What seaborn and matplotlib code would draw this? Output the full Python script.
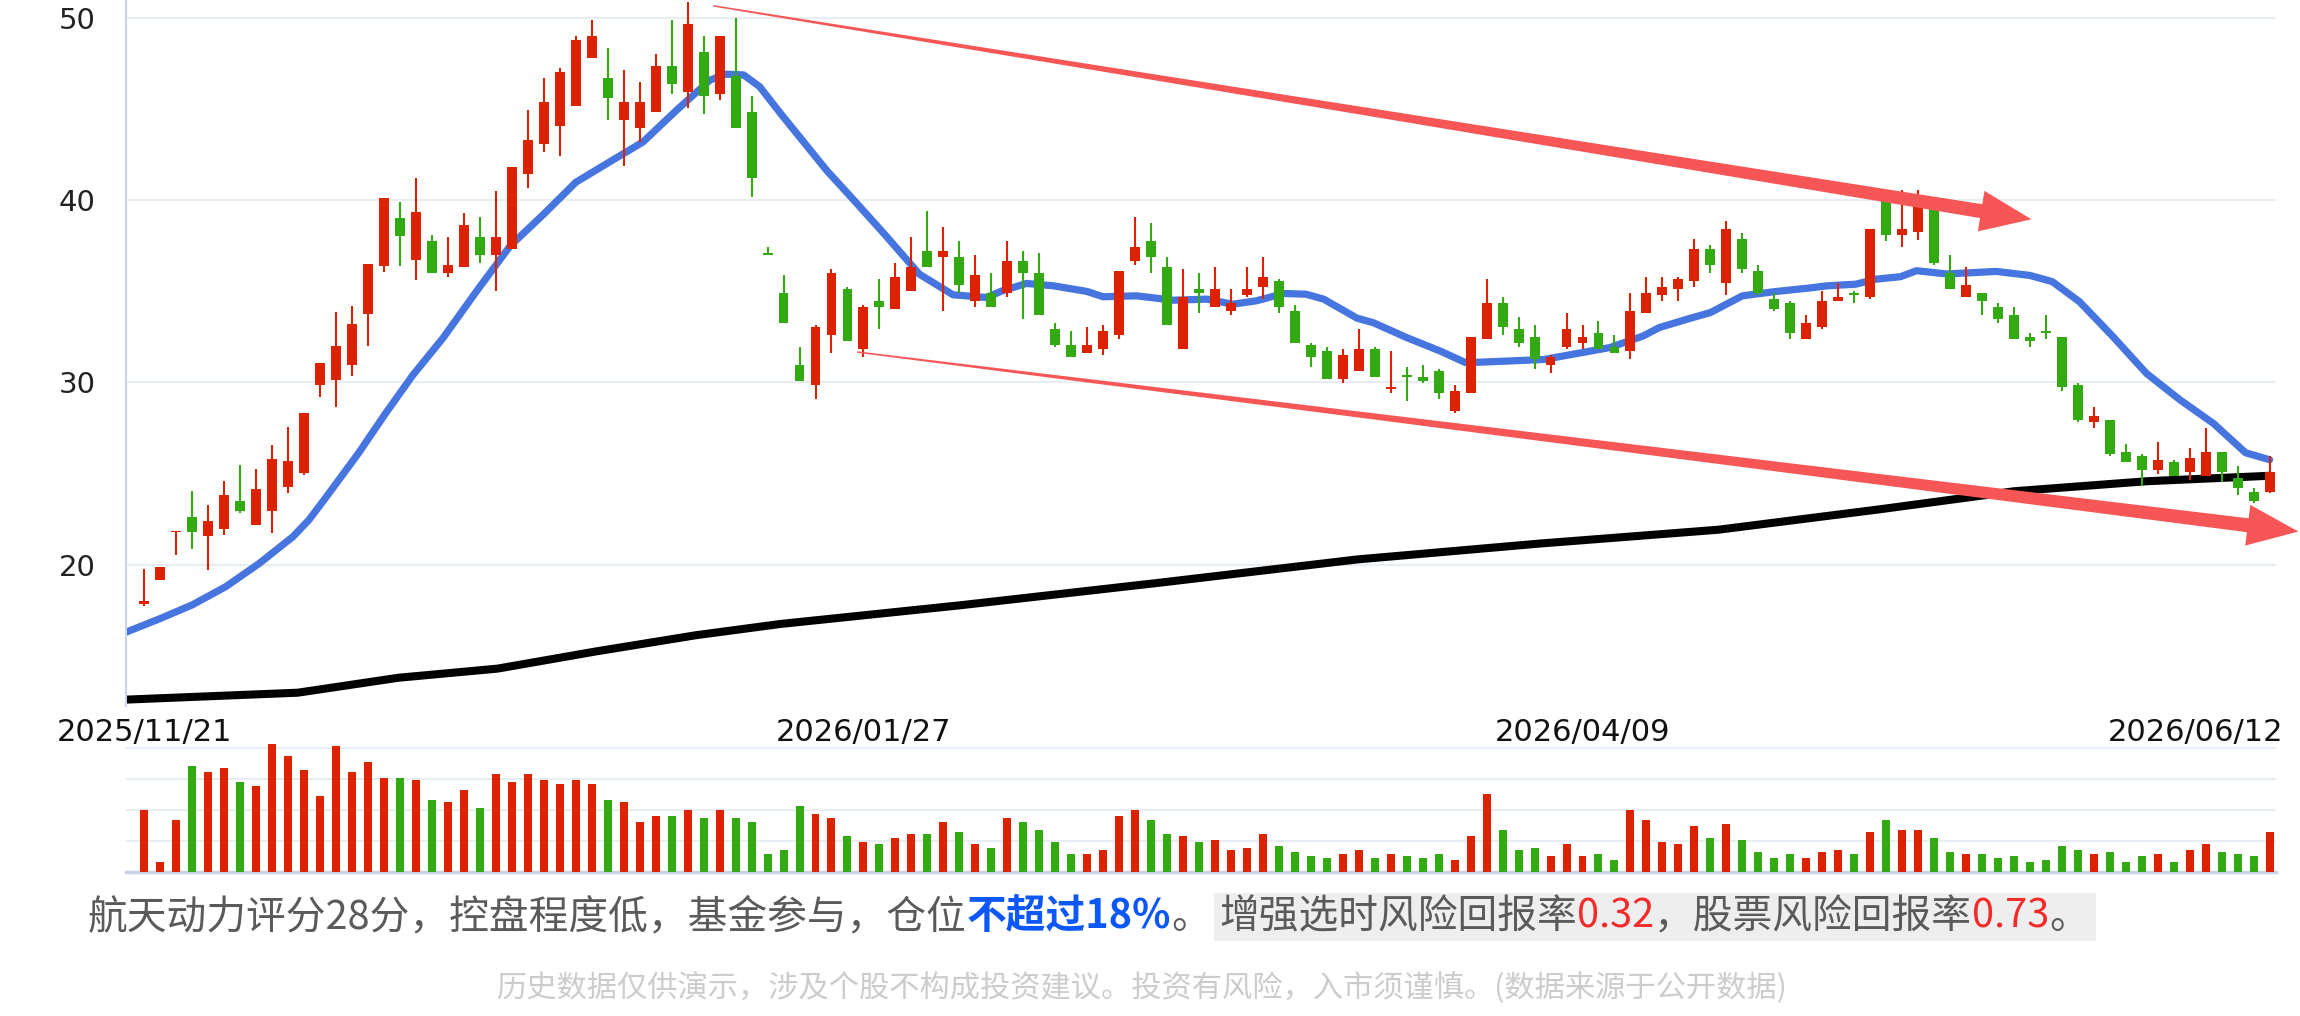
import numpy as np
import pandas as pd
import seaborn as sns
import matplotlib.pyplot as plt
from matplotlib.patches import Polygon, Rectangle
from matplotlib.transforms import ScaledTranslation

sns.set_theme(style="white")
plt.rcParams['font.family'] = ['Noto Sans CJK SC', 'DejaVu Sans']

# daily candles, 2025/11/21 .. 2026/06/12
opens = [17.85, 19.14, 21.79, 22.62, 21.55, 21.97, 23.50, 22.19, 22.95, 24.26,
         25.03, 29.84, 30.16, 30.93, 33.77, 36.39, 39.02, 36.72, 37.78, 36.02,
         36.35, 37.99, 37.00, 37.33, 41.41, 43.06, 44.05, 45.15, 47.79, 46.69,
         44.38, 43.94, 44.82, 47.35, 45.92, 48.12, 45.81, 46.80, 44.82, 37.11,
         34.92, 30.95, 29.85, 32.61, 35.14, 31.83, 34.48, 34.04, 35.03, 37.23,
         36.90, 36.90, 34.48, 34.92, 34.92, 36.68, 36.02, 32.94, 32.06, 31.61,
         31.83, 32.61, 36.68, 37.78, 36.35, 31.83, 35.14, 34.15, 33.93, 34.81,
         35.25, 35.58, 33.93, 32.06, 31.72, 30.18, 30.62, 31.83, 29.63, 30.40,
         30.29, 30.62, 28.42, 29.41, 32.39, 34.37, 32.94, 32.50, 30.95, 31.94,
         32.17, 32.72, 31.94, 31.72, 33.82, 34.81, 35.14, 35.58, 37.34, 35.47,
         37.89, 36.13, 34.59, 34.37, 32.39, 33.05, 34.48, 34.92, 34.70, 39.98,
         38.11, 38.25, 39.50, 36.02, 34.70, 34.92, 34.15, 33.71, 32.50, 32.83,
         32.50, 29.87, 27.81, 27.92, 26.18, 25.97, 25.21, 25.64, 25.10, 24.88,
         26.18, 24.77, 24.01, 24.01]
highs = [19.78, 19.89, 21.86, 24.04, 23.28, 24.59, 25.46, 25.25, 26.56, 27.54,
         28.31, 31.04, 33.88, 34.21, 36.50, 40.11, 39.89, 41.20, 38.11, 37.99,
         39.32, 39.10, 40.52, 41.84, 44.93, 46.69, 47.24, 49.00, 49.88, 48.34,
         47.13, 46.47, 48.01, 49.88, 50.88, 49.00, 49.00, 49.99, 45.70, 37.44,
         35.91, 31.94, 33.16, 36.24, 35.25, 34.26, 35.69, 36.57, 38.00, 39.43,
         38.55, 37.78, 37.01, 36.02, 37.78, 37.23, 37.12, 33.27, 32.83, 33.05,
         33.16, 36.13, 39.10, 38.77, 36.90, 36.24, 36.02, 36.35, 35.14, 36.35,
         36.90, 35.69, 34.26, 32.17, 31.94, 31.83, 32.94, 31.94, 31.72, 30.84,
         30.95, 30.73, 29.85, 32.50, 35.69, 34.70, 33.60, 33.16, 31.50, 33.82,
         33.16, 33.38, 32.61, 34.92, 35.80, 35.80, 35.80, 37.89, 37.56, 38.88,
         38.22, 36.46, 34.92, 34.48, 33.71, 35.03, 35.47, 35.03, 38.44, 40.30,
         40.53, 40.54, 39.90, 37.01, 36.35, 34.92, 34.37, 34.15, 32.72, 33.71,
         32.50, 29.98, 28.68, 27.92, 26.62, 26.08, 26.73, 25.75, 26.40, 27.49,
         26.18, 25.42, 24.23, 25.97]
lows = [17.74, 19.14, 20.55, 20.87, 19.69, 21.64, 22.84, 22.19, 21.75, 23.93,
        24.92, 29.18, 28.63, 30.38, 32.02, 36.07, 36.39, 35.63, 36.02, 35.80,
        36.35, 36.57, 35.02, 37.33, 40.64, 42.62, 42.40, 45.15, 47.79, 44.38,
        41.85, 43.17, 44.82, 45.81, 45.04, 44.71, 45.48, 43.94, 40.20, 37.00,
        33.27, 30.07, 29.08, 31.61, 32.28, 31.39, 32.94, 34.04, 35.03, 36.35,
        33.93, 34.92, 34.15, 34.15, 34.70, 33.49, 33.71, 31.94, 31.39, 31.61,
        31.50, 32.39, 36.46, 36.02, 33.16, 31.83, 33.82, 34.15, 33.71, 34.70,
        34.59, 33.82, 32.17, 30.84, 30.18, 29.96, 30.62, 30.29, 29.41, 28.97,
        29.96, 29.08, 28.31, 29.41, 32.39, 32.61, 31.94, 30.73, 30.51, 31.83,
        31.83, 31.83, 31.61, 31.28, 33.82, 34.48, 34.48, 35.25, 36.02, 34.81,
        36.02, 34.81, 33.93, 32.39, 32.39, 32.94, 34.48, 34.37, 34.59, 37.78,
        37.45, 37.80, 36.46, 35.14, 34.70, 33.71, 33.27, 32.39, 31.94, 32.39,
        29.55, 27.81, 27.49, 25.97, 25.64, 24.34, 24.99, 24.88, 24.67, 24.88,
        24.56, 23.80, 23.36, 23.91]
closes = [18.03, 19.89, 21.86, 21.77, 22.40, 23.83, 22.95, 24.15, 25.79, 25.68,
          28.31, 31.04, 32.02, 33.22, 36.50, 40.11, 38.03, 39.34, 36.02, 36.46,
          38.66, 37.00, 37.99, 41.84, 43.28, 45.37, 47.02, 48.78, 49.00, 45.59,
          45.37, 45.37, 47.35, 46.36, 49.66, 45.70, 49.00, 43.94, 41.19, 37.00,
          33.27, 30.07, 33.05, 36.02, 32.28, 34.15, 34.15, 35.80, 36.35, 36.35,
          37.23, 35.36, 35.91, 34.15, 36.68, 36.02, 33.71, 32.06, 31.39, 32.06,
          32.83, 36.13, 37.45, 36.90, 33.16, 34.70, 34.92, 35.14, 34.37, 35.14,
          35.80, 34.15, 32.17, 31.39, 30.18, 31.50, 31.83, 30.29, 29.74, 30.29,
          30.07, 29.41, 29.52, 32.50, 34.37, 33.05, 32.17, 31.28, 31.39, 32.94,
          32.50, 31.83, 31.61, 33.93, 34.92, 35.25, 35.69, 37.34, 36.46, 38.44,
          36.24, 34.92, 34.04, 32.72, 33.27, 34.48, 34.70, 34.81, 38.44, 38.11,
          38.44, 39.66, 36.57, 35.14, 35.36, 34.48, 33.49, 32.39, 32.28, 32.72,
          29.76, 27.92, 28.14, 26.08, 25.64, 25.21, 25.75, 24.88, 25.86, 26.18,
          25.10, 24.23, 23.47, 25.10]
volumes = [2.00, 0.33, 1.68, 3.42, 3.23, 3.35, 2.90, 2.78, 4.13, 3.74,
           3.29, 2.45, 4.06, 3.23, 3.55, 3.03, 3.03, 2.97, 2.33, 2.26,
           2.65, 2.07, 3.16, 2.90, 3.16, 2.97, 2.84, 2.97, 2.84, 2.33,
           2.26, 1.62, 1.81, 1.81, 2.00, 1.75, 2.00, 1.75, 1.62, 0.59,
           0.72, 2.13, 1.88, 1.75, 1.17, 0.98, 0.91, 1.10, 1.23, 1.23,
           1.62, 1.30, 0.91, 0.78, 1.75, 1.62, 1.36, 0.98, 0.59, 0.59,
           0.72, 1.81, 2.00, 1.68, 1.23, 1.17, 0.98, 1.04, 0.72, 0.78,
           1.23, 0.85, 0.65, 0.53, 0.46, 0.59, 0.72, 0.46, 0.59, 0.53,
           0.46, 0.59, 0.40, 1.17, 2.52, 1.36, 0.72, 0.78, 0.53, 0.91,
           0.53, 0.59, 0.40, 2.00, 1.68, 0.98, 0.91, 1.49, 1.10, 1.55,
           1.04, 0.65, 0.46, 0.59, 0.46, 0.65, 0.72, 0.59, 1.30, 1.68,
           1.36, 1.36, 1.10, 0.65, 0.59, 0.59, 0.46, 0.53, 0.33, 0.40,
           0.85, 0.72, 0.59, 0.65, 0.33, 0.53, 0.59, 0.33, 0.72, 0.91,
           0.65, 0.59, 0.53, 1.30]

# moving averages (x = candle index)
ma_short_x = [-1.15, 1.0, 3.0, 5.1, 7.2, 9.3, 10.3, 11.4, 13.4, 15.1, 16.8, 18.7, 20.8,
              22.9, 25.0, 27.0, 29.1, 31.2, 33.3, 35.4, 36.4, 37.5, 38.5, 39.8, 42.7,
              44.4, 46.4, 48.5, 50.6, 52.7, 53.7, 55.2, 56.9, 59.0, 60.0, 62.1, 64.4,
              66.5, 68.1, 69.6, 71.3, 72.7, 73.8, 75.9, 76.9, 79.0, 81.1, 82.7, 85.2,
              87.6, 89.6, 91.7, 93.8, 94.8, 96.9, 98.0, 100.0, 102.1, 104.2, 105.3,
              107.1, 108.4, 109.9, 110.9, 112.8, 115.9, 118.0, 119.4, 121.1, 123.2,
              125.3, 127.4, 129.5, 131.5, 133.0]
ma_short_y = [16.30, 17.05, 17.80, 18.80, 20.08, 21.54, 22.46, 23.74, 26.12, 28.31, 30.40,
              32.45, 35.02, 37.50, 39.24, 40.98, 42.09, 43.19, 44.93, 46.59, 46.91,
              46.87, 46.23, 44.77, 41.63, 40.00, 38.05, 35.94, 34.81, 34.66, 35.03,
              35.43, 35.30, 34.99, 34.70, 34.75, 34.51, 34.57, 34.29, 34.48, 34.88,
              34.84, 34.57, 33.52, 33.28, 32.46, 31.72, 31.08, 31.17, 31.26, 31.58,
              31.91, 32.55, 33.01, 33.56, 33.83, 34.75, 34.99, 35.18, 35.30, 35.39,
              35.67, 35.80, 36.13, 35.95, 36.09, 35.87, 35.53, 34.43, 32.51, 30.49,
              29.04, 27.74, 26.14, 25.76]
ma_long_x = [-1.15, 9.6, 15.9, 22.1, 28.3, 34.5, 39.8, 51.0, 63.4, 75.9, 87.3, 98.5,
             108.6, 117.0, 125.3, 133.0]
ma_long_y = [12.60, 12.98, 13.80, 14.30, 15.25, 16.13, 16.75, 17.77, 19.00, 20.29,
             21.16, 21.92, 23.04, 24.03, 24.58, 24.88]

tick_pos = [0, 45, 90, 133]
tick_labels = ["2025/11/21", "2026/01/27", "2026/04/09", "2026/06/12"]

# trend arrows (tail, tip) in candle index / price
arrow_upper = [(35.6, 50.66), (118.1, 38.95)]
arrow_lower = [(44.6, 31.67), (134.8, 21.82)]

summary_parts = [("航天动力评分28分，控盘程度低，基金参与，仓位", "#5a5a5a", "normal"),
                 ("不超过18%", "#0b57f7", "bold"),
                 ("。", "#5a5a5a", "normal")]
box_parts = [("增强选时风险回报率", "#5a5a5a", "normal"),
             ("0.32", "#f52a2a", "normal"),
             ("，股票风险回报率", "#5a5a5a", "normal"),
             ("0.73", "#f52a2a", "normal"),
             ("。", "#5a5a5a", "normal")]
footnote = "历史数据仅供演示，涉及个股不构成投资建议。投资有风险，入市须谨慎。(数据来源于公开数据)"

RED, GREEN, BLUE = "#dd2200", "#33aa11", "#4775e0"
ARROW = "#f65656"
GRID = "#e8edf3"

W, H = 2300, 1016
fig = plt.figure(figsize=(W / 100, H / 100), dpi=100)
axv = fig.add_axes([126 / W, 1 - 872 / H, 2150 / W, 132 / H])
ax = fig.add_axes([126 / W, 1 - 706 / H, 2150 / W, 706 / H])
axv.set_facecolor("none")

df = pd.DataFrame({"open": opens, "high": highs, "low": lows,
                   "close": closes, "vol": volumes})
df["x"] = np.arange(len(df))
df["color"] = np.where(df["close"] >= df["open"], RED, GREEN)

# candles
ax.vlines(df["x"], df["low"], df["high"], colors=df["color"], lw=1.5, zorder=3)
body = (df["close"] - df["open"]).abs().clip(lower=0.08)
ax.bar(df["x"], body, bottom=df[["open", "close"]].min(axis=1), width=0.62,
       color=df["color"], lw=0, zorder=3)

sns.lineplot(x=ma_long_x, y=ma_long_y, ax=ax, color="black", lw=5.8, zorder=2)
sns.lineplot(x=ma_short_x, y=ma_short_y, ax=ax, color=BLUE, lw=5.2, zorder=2)

ax.set_xlim(-1.15, 133.4)
ax.set_ylim(12.25, 50.98)
ax.set_yticks([20, 30, 40, 50])
ax.yaxis.grid(True, color=GRID, lw=1.6)
ax.xaxis.grid(False)
ax.set_xticks(tick_pos)
ax.set_xticklabels(tick_labels, family="DejaVu Sans")
ax.set_yticklabels([str(v) for v in ax.get_yticks().astype(int)], family="DejaVu Sans")
ax.tick_params(axis="y", length=0, pad=22, labelsize=21, labelcolor="#222222")
ax.tick_params(axis="x", length=0, pad=9, labelsize=22, labelcolor="#111111")
last = ax.xaxis.get_major_ticks()[-1].label1
last.set_horizontalalignment("right")
last.set_transform(last.get_transform() + ScaledTranslation(0.14, 0, fig.dpi_scale_trans))
for s in ["top", "right", "bottom"]:
    ax.spines[s].set_visible(False)
ax.spines["left"].set_color("#ccd6eb")
ax.spines["left"].set_linewidth(1.5)
ax.set_facecolor("none")
ax.set_xlabel("")
ax.set_ylabel("")


def taper_arrow(a, pts, w0=1.5, w1=14, head_len=51, head_w=41):
    T = a.transData
    p0, p1 = T.transform(pts[0]), T.transform(pts[1])
    d = p1 - p0
    u = d / np.hypot(*d)
    n = np.array([-u[1], u[0]])
    base = p1 - u * head_len
    poly = [p0 + n * w0 / 2, base + n * w1 / 2, base + n * head_w / 2, p1,
            base - n * head_w / 2, base - n * w1 / 2, p0 - n * w0 / 2]
    a.add_patch(Polygon(T.inverted().transform(np.array(poly)), closed=True,
                        facecolor=ARROW, edgecolor="none", clip_on=False, zorder=5))


taper_arrow(ax, arrow_upper)
taper_arrow(ax, arrow_lower)

# volume
axv.bar(df["x"], df["vol"], width=0.5, color=df["color"], lw=0, zorder=3)
axv.set_xlim(-1.15, 133.4)
axv.set_ylim(0, 4.244)
axv.set_yticks([1, 2, 3, 4])
axv.yaxis.grid(True, color=GRID, lw=1.6)
axv.xaxis.grid(False)
axv.set_xticks([])
axv.tick_params(axis="y", length=0, labelleft=False)
for s in ["top", "right", "left"]:
    axv.spines[s].set_visible(False)
axv.spines["bottom"].set_color("#c8d2e6")
axv.spines["bottom"].set_linewidth(2.5)

# summary line
r = fig.canvas.get_renderer()
fam = ["Noto Sans CJK SC", "DejaVu Sans"]
x = 88
y = 1 - 917 / H
for s, c, wgt in summary_parts:
    t = fig.text(x / W, y, s, color=c, fontsize=28.6, fontweight=wgt, family=fam,
                 ha="left", va="center")
    x = t.get_window_extent(renderer=r).x1
x += 8
box_x0 = x
for s, c, wgt in box_parts:
    t = fig.text(x / W, y, s, color=c, fontsize=28.6, fontweight=wgt, family=fam,
                 ha="left", va="center", zorder=3)
    x = t.get_window_extent(renderer=r).x1
fig.patches.append(Rectangle(((box_x0 - 5) / W, 1 - 941 / H), (x - box_x0 + 12) / W,
                             48 / H, transform=fig.transFigure, facecolor="#eeeeee",
                             edgecolor="none", zorder=1))

fig.text(0.4965, 1 - 988 / H, footnote, color="#cccccc", fontsize=21.8, family=fam,
         ha="center", va="center")

fig.savefig("out.png", dpi=100, facecolor="white")
